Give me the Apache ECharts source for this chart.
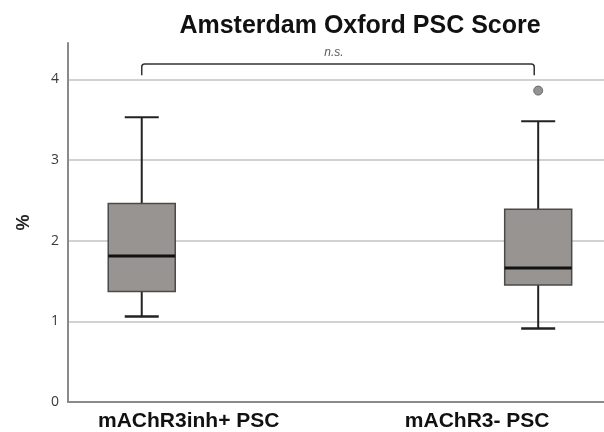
<!DOCTYPE html>
<html>
<head>
<meta charset="utf-8">
<script src="https://cdn.jsdelivr.net/npm/echarts@6/dist/echarts.min.js"></script>
<style>
  html, body { margin: 0; padding: 0; background: #fff; }
  #chart { width: 604px; height: 432px; }
</style>
</head>
<body>
<div id="chart"></div>
<script>
// box summary per group
const categories = ['mAChR3inh+ PSC', 'mAChR3- PSC']
const lowerWhisker = [1.06, 0.91]
const q1 = [1.37, 1.45]
const median = [1.81, 1.66]
const q3 = [2.46, 2.39]
const upperWhisker = [3.53, 3.48]
const outliers = [[1, 3.86]]
const yTicks = [0, 1, 2, 3, 4]

// significance bracket
const bracketFrom = 0
const bracketTo = 0.99
const bracketLow = 4.05
const bracketHigh = 4.19
const bracketText = 'n.s.'

const boxData = categories.map((c, i) => [i, lowerWhisker[i], q1[i], median[i], q3[i], upperWhisker[i]])

const chart = echarts.init(document.getElementById('chart'))

chart.setOption({
  animation: false,
  title: {
    text: 'Amsterdam Oxford PSC Score',
    left: 355,
    textAlign: 'center',
    top: 9,
    textStyle: {
      fontFamily: 'Liberation Sans',
      fontWeight: 'bold',
      fontSize: 25,
      color: '#111'
    }
  },
  grid: {
    left: 68,
    right: 0,
    top: 43,
    bottom: 27
  },
  xAxis: {
    type: 'value',
    min: -0.186,
    max: 1.166,
    splitLine: { show: false },
    axisTick: { show: false },
    axisLine: {
      onZero: false,
      lineStyle: { color: '#8a8a8a', width: 2 }
    },
    axisLabel: {
      customValues: [0, 1],
      margin: 9,
      formatter: function (value) {
        return value === 0 ? '{a|' + categories[0] + '}' : '{b|' + categories[1] + '}'
      },
      rich: {
        a: {
          fontFamily: 'Liberation Sans',
          fontWeight: 'bold',
          fontSize: 21,
          color: '#111',
          padding: [0, 0, 0, 94]
        },
        b: {
          fontFamily: 'Liberation Sans',
          fontWeight: 'bold',
          fontSize: 21,
          color: '#111',
          padding: [0, 122, 0, 0]
        }
      }
    }
  },
  yAxis: {
    type: 'value',
    min: 0,
    max: 4.45,
    interval: 1,
    name: '%',
    nameLocation: 'middle',
    nameRotate: 90,
    nameGap: 35,
    nameTextStyle: {
      fontFamily: 'Liberation Sans',
      fontWeight: 'bold',
      fontSize: 18,
      color: '#222'
    },
    axisLine: {
      show: true,
      onZero: false,
      lineStyle: { color: '#8a8a8a', width: 2 }
    },
    axisTick: { show: false },
    axisLabel: {
      customValues: yTicks,
      margin: 9,
      fontFamily: 'Open Sans',
      fontSize: 14,
      color: '#3a3a3a'
    },
    splitLine: {
      show: true,
      showMinLine: false,
      showMaxLine: false,
      lineStyle: { color: '#d2d2d2', width: 2 }
    }
  },
  series: [
    {
      type: 'custom',
      data: boxData,
      encode: { x: 0, y: [1, 2, 3, 4, 5] },
      renderItem: function (params, api) {
        const x = api.value(0)
        const boxW = 67
        const capW = 34
        const pLow = api.coord([x, api.value(1)])
        const pQ1 = api.coord([x, api.value(2)])
        const pMed = api.coord([x, api.value(3)])
        const pQ3 = api.coord([x, api.value(4)])
        const pHigh = api.coord([x, api.value(5)])
        const cx = pMed[0]
        const lineStyle = { stroke: '#222', lineWidth: 2 }
        return {
          type: 'group',
          children: [
            { type: 'line', shape: { x1: cx, y1: pQ3[1], x2: cx, y2: pHigh[1] }, style: lineStyle },
            { type: 'line', shape: { x1: cx, y1: pQ1[1], x2: cx, y2: pLow[1] }, style: lineStyle },
            { type: 'line', shape: { x1: cx - capW / 2, y1: pHigh[1], x2: cx + capW / 2, y2: pHigh[1] }, style: lineStyle },
            { type: 'line', shape: { x1: cx - capW / 2, y1: pLow[1], x2: cx + capW / 2, y2: pLow[1] }, style: { stroke: '#222', lineWidth: 2.5 } },
            {
              type: 'rect',
              shape: { x: cx - boxW / 2, y: pQ3[1], width: boxW, height: pQ1[1] - pQ3[1] },
              style: { fill: '#989492', stroke: '#4a4a4a', lineWidth: 1.5 }
            },
            { type: 'line', shape: { x1: cx - boxW / 2, y1: pMed[1], x2: cx + boxW / 2, y2: pMed[1] }, style: { stroke: '#111', lineWidth: 3 } }
          ]
        }
      },
      z: 3
    },
    {
      type: 'scatter',
      data: outliers,
      symbol: 'circle',
      symbolSize: 9,
      itemStyle: { color: '#7a7876', borderColor: '#555', borderWidth: 1 },
      z: 4
    },
    {
      type: 'custom',
      data: [[bracketFrom, bracketTo, bracketLow, bracketHigh]],
      encode: { x: [0, 1], y: [2, 3] },
      renderItem: function (params, api) {
        const a = api.coord([api.value(0), api.value(3)])
        const b = api.coord([api.value(1), api.value(3)])
        const lowY = api.coord([0, api.value(2)])[1]
        const r = 3
        const path = 'M' + a[0] + ' ' + lowY +
          ' L' + a[0] + ' ' + (a[1] + r) +
          ' Q' + a[0] + ' ' + a[1] + ' ' + (a[0] + r) + ' ' + a[1] +
          ' L' + (b[0] - r) + ' ' + b[1] +
          ' Q' + b[0] + ' ' + b[1] + ' ' + b[0] + ' ' + (b[1] + r) +
          ' L' + b[0] + ' ' + lowY
        return {
          type: 'group',
          children: [
            {
              type: 'path',
              shape: { pathData: path },
              style: { stroke: '#333', lineWidth: 1.5, fill: null }
            },
            {
              type: 'text',
              x: (a[0] + b[0]) / 2 - 4,
              y: a[1] - 5,
              style: {
                text: bracketText,
                fontFamily: 'Liberation Sans',
                fontStyle: 'italic',
                fontSize: 12,
                fill: '#555a66',
                align: 'center',
                verticalAlign: 'bottom'
              }
            }
          ]
        }
      },
      z: 2
    }
  ]
})
</script>
</body>
</html>
